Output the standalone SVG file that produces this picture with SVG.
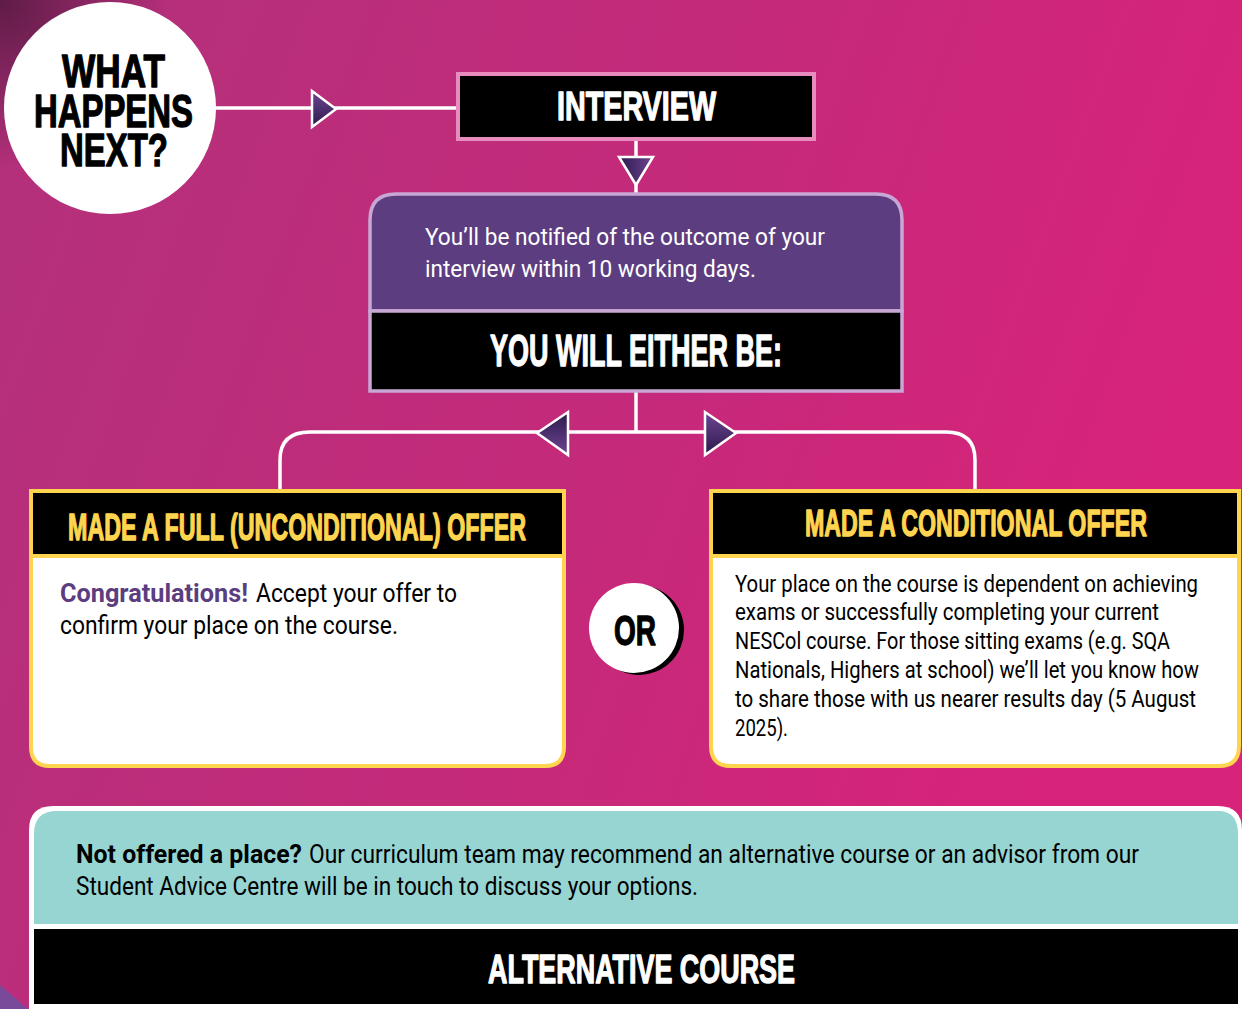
<svg xmlns="http://www.w3.org/2000/svg" width="1242" height="1009" viewBox="0 0 1242 1009">
<defs>
<linearGradient id="bg" x1="0" y1="0" x2="1" y2="0.3">
<stop offset="0" stop-color="#b2317a"/>
<stop offset="0.55" stop-color="#c42a7a"/>
<stop offset="1" stop-color="#d8237a"/>
</linearGradient>
<radialGradient id="corner" cx="0" cy="0" r="170" gradientUnits="userSpaceOnUse">
<stop offset="0" stop-color="#5a1a45" stop-opacity="0.95"/>
<stop offset="1" stop-color="#5a1a45" stop-opacity="0"/>
</radialGradient>
<linearGradient id="tri" x1="0" y1="0" x2="0" y2="1">
<stop offset="0" stop-color="#6e4592"/>
<stop offset="1" stop-color="#2c1a4c"/>
</linearGradient>
<linearGradient id="triUp" x1="0" y1="1" x2="0" y2="0">
<stop offset="0" stop-color="#6e4592"/>
<stop offset="1" stop-color="#2c1a4c"/>
</linearGradient>
<linearGradient id="triH" x1="0" y1="0" x2="1" y2="0">
<stop offset="0" stop-color="#2c1a4c"/>
<stop offset="1" stop-color="#6e4592"/>
</linearGradient>
<style>
.head{font-family:"Liberation Sans Narrow","Liberation Sans",Arial,sans-serif;font-weight:bold;stroke-width:1.3;stroke-linejoin:round;}
.body{font-family:Roboto,"Liberation Sans",sans-serif;}
.wline{stroke:#fff;stroke-width:3.5;fill:none;}
.tri{stroke:#fff;stroke-width:2.5;stroke-linejoin:miter;}
</style>
</defs>
<rect width="1242" height="1009" fill="url(#bg)"/>
<rect width="1242" height="1009" fill="url(#corner)"/>
<polygon points="0,985 28,1009 0,1009" fill="#7a4a9a"/>

<g id="connectors">
<line class="wline" x1="214" y1="108" x2="458" y2="108"/>
<polygon class="tri" points="312,91 336,109 312,127" fill="url(#tri)"/>
<line class="wline" x1="636" y1="140" x2="636" y2="194"/>
<polygon class="tri" points="619,157 653,157 636,185" fill="url(#triH)"/>
<line class="wline" x1="636" y1="392" x2="636" y2="432"/>
<path class="wline" d="M280,490 V460 Q280,432 310,432 H946 Q975,432 975,460 V490"/>
<polygon class="tri" points="568,412 568,455 537,433" fill="url(#triUp)"/>
<polygon class="tri" points="705,412 705,455 736,433" fill="url(#tri)"/>
</g>

<g id="what-happens-next">
<circle cx="110" cy="108" r="106" fill="#fff"/>
<text class="head" font-size="46" fill="#000" stroke="#000" x="62" y="87" textLength="103" lengthAdjust="spacingAndGlyphs">WHAT</text>
<text class="head" font-size="46" fill="#000" stroke="#000" x="34" y="127" textLength="159" lengthAdjust="spacingAndGlyphs">HAPPENS</text>
<text class="head" font-size="46" fill="#000" stroke="#000" x="60" y="166" textLength="108" lengthAdjust="spacingAndGlyphs">NEXT?</text>
</g>

<g id="interview">
<rect x="458" y="74" width="356" height="65" fill="#000" stroke="#e88cc0" stroke-width="4"/>
<text class="head" font-size="40" fill="#fff" stroke="#fff" x="557" y="120" textLength="159" lengthAdjust="spacingAndGlyphs">INTERVIEW</text>
</g>

<g id="notified">
<path d="M370,311 V220 Q370,194 396,194 H876 Q902,194 902,220 V311 Z" fill="#5c3d80" stroke="#c9a7d5" stroke-width="3.5"/>
<text class="body" font-size="24" fill="#fff" x="425" y="245" textLength="400" lengthAdjust="spacingAndGlyphs">You’ll be notified of the outcome of your</text>
<text class="body" font-size="24" fill="#fff" x="425" y="277" textLength="331" lengthAdjust="spacingAndGlyphs">interview within 10 working days.</text>
</g>

<g id="either">
<rect x="370" y="311" width="532" height="80" fill="#000" stroke="#c9a7d5" stroke-width="3.5"/>
<text class="head" font-size="44" fill="#fff" stroke="#fff" x="490" y="366" textLength="292" lengthAdjust="spacingAndGlyphs">YOU WILL EITHER BE:</text>
</g>

<g id="full-offer">
<path d="M31,491 H564 V747 Q564,766 545,766 H50 Q31,766 31,747 Z" fill="#fff" stroke="#ffd54f" stroke-width="4"/>
<rect x="31" y="491" width="533" height="65" fill="#000" stroke="#ffd54f" stroke-width="4"/>
<text class="head" font-size="36" fill="#ffd54f" stroke="#ffd54f" x="68" y="540" textLength="458" lengthAdjust="spacingAndGlyphs">MADE A FULL (UNCONDITIONAL) OFFER</text>
<text class="body" font-size="25" font-weight="bold" fill="#5c3d80" x="60" y="602" textLength="188" lengthAdjust="spacingAndGlyphs">Congratulations!</text>
<text class="body" font-size="25" fill="#000" x="256" y="602" textLength="201" lengthAdjust="spacingAndGlyphs">Accept your offer to</text>
<text class="body" font-size="25" fill="#000" x="60" y="634" textLength="338" lengthAdjust="spacingAndGlyphs">confirm your place on the course.</text>
</g>

<g id="or">
<circle cx="639" cy="630" r="45" fill="#000"/>
<circle cx="634" cy="628" r="45" fill="#fff"/>
<text class="head" font-size="42" fill="#000" stroke="#000" x="614" y="645" textLength="42" lengthAdjust="spacingAndGlyphs">OR</text>
</g>

<g id="conditional-offer">
<path d="M711,491 H1239 V746 Q1239,766 1219,766 H731 Q711,766 711,746 Z" fill="#fff" stroke="#ffd54f" stroke-width="4"/>
<rect x="711" y="491" width="528" height="65" fill="#000" stroke="#ffd54f" stroke-width="4"/>
<text class="head" font-size="36" fill="#ffd54f" stroke="#ffd54f" x="805" y="536" textLength="342" lengthAdjust="spacingAndGlyphs">MADE A CONDITIONAL OFFER</text>
<text class="body" font-size="23" fill="#000" x="735" y="592" textLength="463" lengthAdjust="spacingAndGlyphs">Your place on the course is dependent on achieving</text>
<text class="body" font-size="23" fill="#000" x="735" y="620" textLength="424" lengthAdjust="spacingAndGlyphs">exams or successfully completing your current</text>
<text class="body" font-size="23" fill="#000" x="735" y="649" textLength="435" lengthAdjust="spacingAndGlyphs">NESCol course. For those sitting exams (e.g. SQA</text>
<text class="body" font-size="23" fill="#000" x="735" y="678" textLength="464" lengthAdjust="spacingAndGlyphs">Nationals, Highers at school) we’ll let you know how</text>
<text class="body" font-size="23" fill="#000" x="735" y="707" textLength="461" lengthAdjust="spacingAndGlyphs">to share those with us nearer results day (5 August</text>
<text class="body" font-size="23" fill="#000" x="735" y="736" textLength="53" lengthAdjust="spacingAndGlyphs">2025).</text>
</g>

<g id="not-offered">
<path d="M29,1009 V830 Q29,806 53,806 H1218 Q1242,806 1242,830 V1009 Z" fill="#fff"/>
<path d="M34,924 V834 Q34,811 57,811 H1218 Q1238,811 1238,834 V924 Z" fill="#97d5d3"/>
<text class="body" font-size="26" font-weight="bold" fill="#000" x="76" y="863" textLength="226" lengthAdjust="spacingAndGlyphs">Not offered a place?</text>
<text class="body" font-size="25" fill="#000" x="309" y="863" textLength="830" lengthAdjust="spacingAndGlyphs">Our curriculum team may recommend an alternative course or an advisor from our</text>
<text class="body" font-size="25" fill="#000" x="76" y="895" textLength="622" lengthAdjust="spacingAndGlyphs">Student Advice Centre will be in touch to discuss your options.</text>
</g>

<g id="alternative-course">
<rect x="34" y="929" width="1204" height="75" fill="#000"/>
<text class="head" font-size="40" fill="#fff" stroke="#fff" x="488" y="983" textLength="307" lengthAdjust="spacingAndGlyphs">ALTERNATIVE COURSE</text>
</g>
</svg>
